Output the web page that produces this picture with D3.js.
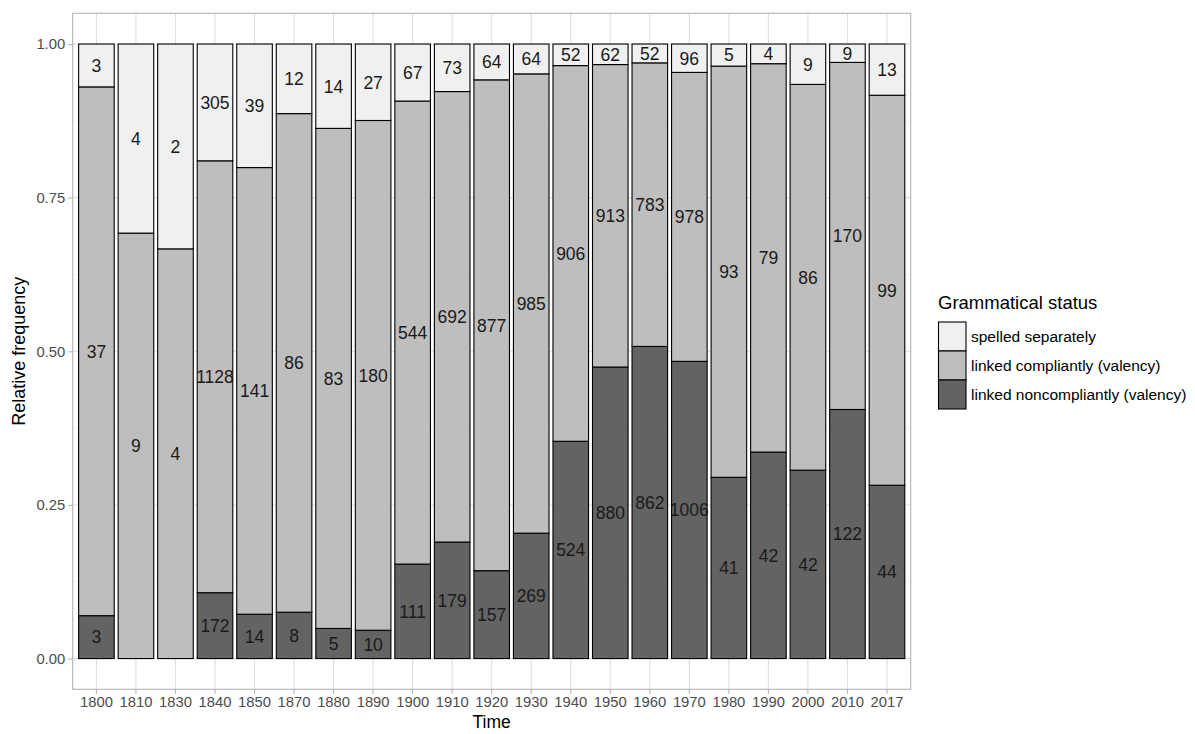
<!DOCTYPE html>
<html>
<head>
<meta charset="utf-8">
<script src="https://cdn.jsdelivr.net/npm/d3@7"></script>
<style>
  html, body { margin: 0; padding: 0; background: #ffffff; }
  svg { display: block; font-family: "Liberation Sans", Arial, sans-serif; }
</style>
</head>
<body>
<svg id="chart" width="1195" height="734"></svg>
<script>
// ---- data ----
const years = ["1800","1810","1830","1840","1850","1870","1880","1890","1900","1910","1920","1930","1940","1950","1960","1970","1980","1990","2000","2010","2017"];
const noncompliant = [3, 0, 0, 172, 14, 8, 5, 10, 111, 179, 157, 269, 524, 880, 862, 1006, 41, 42, 42, 122, 44];
const compliant    = [37, 9, 4, 1128, 141, 86, 83, 180, 544, 692, 877, 985, 906, 913, 783, 978, 93, 79, 86, 170, 99];
const separate     = [3, 4, 2, 305, 39, 12, 14, 27, 67, 73, 64, 64, 52, 62, 52, 96, 5, 4, 9, 9, 13];
const seriesNames  = ["spelled separately", "linked compliantly (valency)", "linked noncompliantly (valency)"];
const yTicks = [0, 0.25, 0.5, 0.75, 1];
const yMinor = [0.125, 0.375, 0.625, 0.875];

const fills = {"spelled separately": "#F0F0F0", "linked compliantly (valency)": "#BEBEBE", "linked noncompliantly (valency)": "#636363"};

const svg = d3.select("#chart");
const panel = {left: 72.7, right: 910.7, top: 13.3, bottom: 689.3};

const x = d3.scaleBand().domain(years).range([panel.left, panel.right]).paddingInner(0.1).paddingOuter(0.15);
const y = d3.scaleLinear().domain([-0.05, 1.05]).range([panel.bottom, panel.top]);

// build stacked rows (bottom -> top: noncompliant, compliant, separate)
const rows = years.map((yr, i) => ({
  year: yr,
  "linked noncompliantly (valency)": noncompliant[i],
  "linked compliantly (valency)": compliant[i],
  "spelled separately": separate[i]
}));
const stackOrder = ["linked noncompliantly (valency)", "linked compliantly (valency)", "spelled separately"];
const stack = d3.stack().keys(stackOrder).offset(d3.stackOffsetExpand);
const layers = stack(rows);

// grid
const g = svg.append("g");
g.selectAll(".minor").data(yMinor).join("line")
  .attr("x1", panel.left).attr("x2", panel.right)
  .attr("y1", d => y(d)).attr("y2", d => y(d))
  .attr("stroke", "#EDEDED").attr("stroke-width", 0.6);
g.selectAll(".majorY").data(yTicks).join("line")
  .attr("x1", panel.left).attr("x2", panel.right)
  .attr("y1", d => y(d)).attr("y2", d => y(d))
  .attr("stroke", "#DEDEDE").attr("stroke-width", 1.1);
g.selectAll(".majorX").data(years).join("line")
  .attr("y1", panel.top).attr("y2", panel.bottom)
  .attr("x1", d => x(d) + x.bandwidth() / 2).attr("x2", d => x(d) + x.bandwidth() / 2)
  .attr("stroke", "#DEDEDE").attr("stroke-width", 1.1);

// bars
const bars = svg.append("g");
layers.forEach(layer => {
  bars.selectAll(null).data(layer.filter(d => d[1] - d[0] > 0)).join("rect")
    .attr("x", d => x(d.data.year))
    .attr("width", x.bandwidth())
    .attr("y", d => y(d[1]))
    .attr("height", d => y(d[0]) - y(d[1]))
    .attr("fill", fills[layer.key])
    .attr("stroke", "#000000")
    .attr("stroke-width", 1.1);
});

// labels
const labels = svg.append("g");
layers.forEach(layer => {
  labels.selectAll(null).data(layer.filter(d => d.data[layer.key] > 0)).join("text")
    .attr("x", d => x(d.data.year) + x.bandwidth() / 2)
    .attr("y", d => y((d[0] + d[1]) / 2))
    .attr("dy", "0.36em")
    .attr("text-anchor", "middle")
    .attr("font-size", 17.5)
    .attr("fill", "#1a1a1a")
    .text(d => d.data[layer.key]);
});

// panel border
svg.append("rect")
  .attr("x", panel.left).attr("y", panel.top)
  .attr("width", panel.right - panel.left).attr("height", panel.bottom - panel.top)
  .attr("fill", "none").attr("stroke", "#B3B3B3").attr("stroke-width", 1.1);

// axes
const xAxis = svg.append("g").attr("transform", `translate(0,${panel.bottom})`)
  .call(d3.axisBottom(x).tickSize(4.5).tickPadding(3));
const yAxis = svg.append("g").attr("transform", `translate(${panel.left},0)`)
  .call(d3.axisLeft(y).tickValues(yTicks).tickFormat(d3.format(".2f")).tickSize(4.5).tickPadding(3));
[xAxis, yAxis].forEach(a => {
  a.select(".domain").remove();
  a.selectAll(".tick line").attr("stroke", "#B3B3B3").attr("stroke-width", 1.1);
  a.selectAll(".tick text").attr("fill", "#4D4D4D").attr("font-size", 14.8)
    .attr("font-family", "'Liberation Sans', Arial, sans-serif");
});

// axis titles
svg.append("text").attr("x", (panel.left + panel.right) / 2).attr("y", 722)
  .attr("dy", "0.36em")
  .attr("text-anchor", "middle").attr("font-size", 17.5).attr("fill", "#000").text("Time");
svg.append("text").attr("transform", `translate(25,${(panel.top + panel.bottom) / 2}) rotate(-90)`)
  .attr("text-anchor", "middle").attr("font-size", 18).attr("fill", "#000").text("Relative frequency");

// legend
const leg = svg.append("g").attr("transform", "translate(938,0)");
leg.append("text").attr("x", 0).attr("y", 309).attr("font-size", 18.5).attr("fill", "#000").text("Grammatical status");
seriesNames.forEach((name, i) => {
  const top = 322 + i * 29;
  leg.append("rect").attr("x", 0.5).attr("y", top).attr("width", 27.5).attr("height", 29)
    .attr("fill", fills[name]).attr("stroke", "#000").attr("stroke-width", 1.1);
  leg.append("text").attr("x", 33).attr("y", top + 14.5).attr("dy", "0.36em")
    .attr("font-size", 15.5).attr("fill", "#000").text(name);
});
</script>
</body>
</html>
